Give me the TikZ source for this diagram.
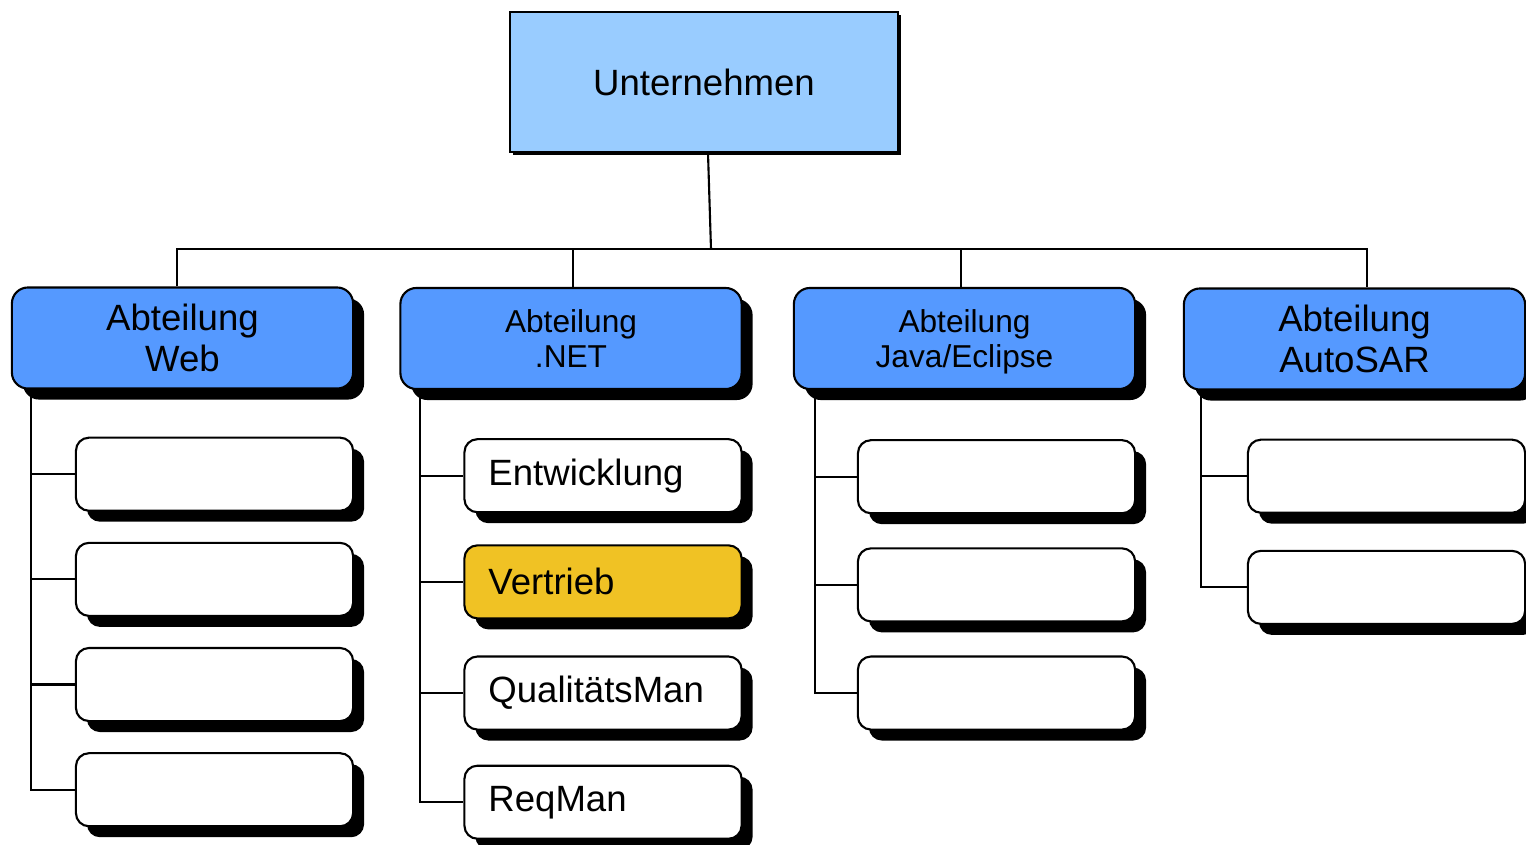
\documentclass[tikz,border=0pt]{standalone}
\usepackage{fontspec}
\setmainfont{Liberation Sans}
\usetikzlibrary{positioning, shadows}
\definecolor{topblue}{HTML}{99CCFF}
\definecolor{deptblue}{HTML}{5599FF}
\definecolor{salesgold}{HTML}{F0C224}
\tikzstyle{firm} = [rectangle, minimum width=3.88cm, minimum height=1.4cm, draw=black, line width=0.6pt, fill=topblue, drop shadow={shadow xshift=0.03cm, shadow yshift=-0.03cm, opacity=1, fill=black}, font=\fontsize{10.4}{11.7}\selectfont]
\tikzstyle{dept} = [rectangle, rounded corners=0.16cm, minimum width=3.41cm, minimum height=1.01cm, draw=black, line width=0.6pt, fill=deptblue, align=center, drop shadow={shadow xshift=0.11cm, shadow yshift=-0.11cm, opacity=1, fill=black}, font=\fontsize{10.4}{11.7}\selectfont]
\tikzstyle{smalltext} = [font=\fontsize{9}{10}\selectfont]
\tikzstyle{team} = [rectangle, rounded corners=0.13cm, text width=2.29cm, inner xsep=0.24cm, minimum height=0.73cm, draw=black, line width=0.6pt, fill=white, align=left, drop shadow={shadow xshift=0.11cm, shadow yshift=-0.11cm, opacity=1, fill=black}, font=\fontsize{10.4}{12}\selectfont]
\tikzstyle{link} = [line width=0.6pt]

\begin{document}
\begin{tikzpicture}[
		x=0.01cm,
		y=-0.01cm,
		node distance=0.30cm
	]
	\useasboundingbox (0,0) rectangle (1526,844);

	\node[firm] (firm) at (704,82) {Unternehmen};

	% Abteilungen
	\node[dept] (web) at (182.5,338) {Abteilung\\Web};
	\node[dept, smalltext] (net) at (571,338.5) {Abteilung\\.NET};
	\node[dept, smalltext] (java) at (964.5,338.5) {Abteilung\\\raisebox{0pt}[\height][0pt]{Java/Eclipse}};
	\node[dept] (auto) at (1354.5,339) {Abteilung\\AutoSAR};

	% Web
	\node[team, below=0.47cm of web.south east, anchor=north east] (web1) {};
	\node[team, below=of web1] (web2) {};
	\node[team, below=of web2] (web3) {};
	\node[team, below=of web3] (web4) {};

	% .NET
	\node[team, below=0.48cm of net.south east, anchor=north east] (dev) {Entwicklung};
	\node[team, fill=salesgold, below=0.31cm of dev] (sales) {Vertrieb};
	\node[team, below=0.36cm of sales] (qm) {QualitätsMan};
	\node[team, below=0.34cm of qm] (rm) {ReqMan};

	% Java/Eclipse
	\node[team, below=0.49cm of java.south east, anchor=north east] (java1) {};
	\node[team, below=0.33cm of java1] (java2) {};
	\node[team, below=0.33cm of java2] (java3) {};

	% AutoSAR
	\node[team, below=0.48cm of auto.south east, anchor=north east] (auto1) {};
	\node[team, below=0.36cm of auto1] (auto2) {};

	% Verbindungen oben
	\coordinate (bus) at (711,249);
	\draw[link] ([xshift=0.04cm]firm.south) -- (bus);
	\draw[link] ([xshift=-0.055cm]web.north) |- (bus) -| ([xshift=0.125cm]auto.north);
	\draw[link] ([xshift=0.02cm]net.north) -- ([xshift=0.02cm]net.north |- bus);
	\draw[link] ([xshift=-0.035cm]java.north) -- ([xshift=-0.035cm]java.north |- bus);

	% Verbindungen zu den Teams
	\draw[link] ([xshift=0.2cm]web.south west) |- (web1.west);
	\draw[link] ([xshift=0.2cm]web.south west) |- (web2.west);
	\draw[link] ([xshift=0.2cm]web.south west) |- (web3.west);
	\draw[link] ([xshift=0.2cm]web.south west) |- (web4.west);

	\draw[link] ([xshift=0.21cm]net.south west) |- (dev.west);
	\draw[link] ([xshift=0.21cm]net.south west) |- (sales.west);
	\draw[link] ([xshift=0.21cm]net.south west) |- (qm.west);
	\draw[link] ([xshift=0.21cm]net.south west) |- (rm.west);

	\draw[link] ([xshift=0.22cm]java.south west) |- (java1.west);
	\draw[link] ([xshift=0.22cm]java.south west) |- (java2.west);
	\draw[link] ([xshift=0.22cm]java.south west) |- (java3.west);

	\draw[link] ([xshift=0.18cm]auto.south west) |- (auto1.west);
	\draw[link] ([xshift=0.18cm]auto.south west) |- (auto2.west);
\end{tikzpicture}
\end{document}
